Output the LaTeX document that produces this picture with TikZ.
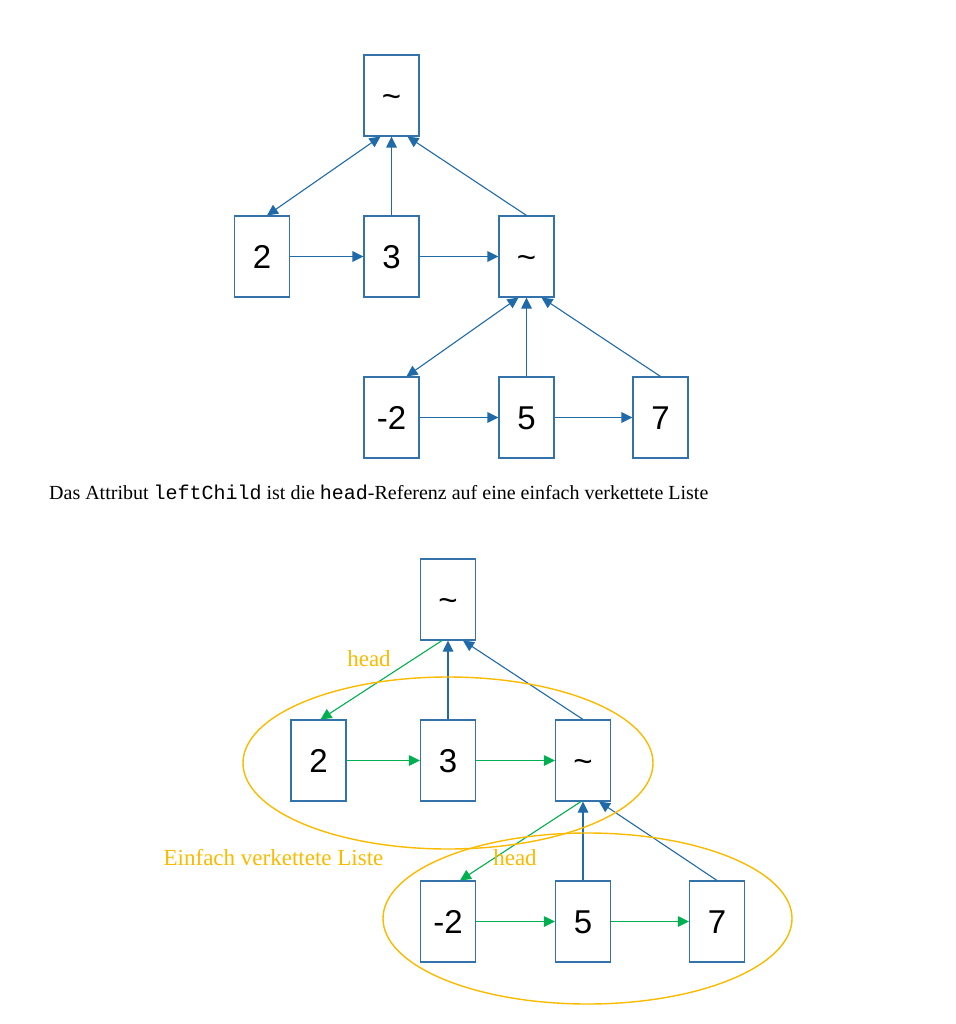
\documentclass[tikz,border=0pt]{standalone}
\usepackage{fontspec}
\setmainfont{Liberation Serif}
\setsansfont{Liberation Sans}
\setmonofont{Liberation Mono}
\usetikzlibrary{arrows.meta}
\definecolor{linkblue}{RGB}{31,106,168}
\definecolor{boxblue}{RGB}{52,114,172}
\definecolor{headgreen}{RGB}{0,176,80}
\definecolor{listgold}{RGB}{250,186,0}

\begin{document}
\begin{tikzpicture}[x=1pt,y=-1pt]
    \tikzset{
      cell/.style={draw=boxblue,line width=1.1pt,minimum width=55pt,minimum height=81pt,inner sep=0pt,
        text height=23.6pt,text depth=0pt,font=\sffamily\fontsize{33}{36}\selectfont},
      uplink/.style={-{Triangle[length=11pt,width=10.5pt]},line width=1.1pt,linkblue},
      twoway/.style={{Triangle[length=11pt,width=10.5pt]}-{Triangle[length=11pt,width=10.5pt]},line width=1.1pt,linkblue},
      headlink/.style={-{Triangle[length=11pt,width=10.5pt]},line width=1.1pt,headgreen},
      listring/.style={listgold,line width=1.4pt},
      listnote/.style={text=listgold,font=\fontsize{23}{26}\selectfont,inner sep=0pt,anchor=base}
    }
    \useasboundingbox (0,0) rectangle (955,1024);

    \begin{scope}
      \node[cell] (root) at (391.5,95.5) {\textasciitilde};
      \node[cell] (n2) at (262,256.5) {2};
      \node[cell] (n3) at (391.5,256.5) {3};
      \node[cell] (sub) at (526.5,256.5) {\textasciitilde};
      \node[cell] (m2) at (391.5,417.5) {-2};
      \node[cell] (n5) at (526.5,417.5) {5};
      \node[cell] (n7) at (660.5,417.5) {7};
      \draw[twoway] ([xshift=-11pt]root.south) -- ([xshift=5pt]n2.north);
      \draw[uplink] (n3.north) -- (root.south);
      \draw[uplink] (sub.north) -- ([xshift=16pt]root.south);
      \draw[uplink] (n2.east) -- (n3.west);
      \draw[uplink] (n3.east) -- (sub.west);
      \draw[twoway] ([xshift=-8pt]sub.south) -- ([xshift=15pt]m2.north);
      \draw[uplink] (n5.north) -- (sub.south);
      \draw[uplink] (n7.north) -- ([xshift=15pt]sub.south);
      \draw[uplink] (m2.east) -- (n5.west);
      \draw[uplink] (n5.east) -- (n7.west);
    \end{scope}

    \node[anchor=base west,inner sep=0pt,font=\fontsize{20}{24}\selectfont] (caption) at (49,499)
      {Das Attribut \texttt{leftChild} ist die \texttt{head}-Referenz auf eine einfach verkettete Liste};

    \begin{scope}[shift={(56.5,504)}]
      \node[cell] (root) at (391.5,95.5) {\textasciitilde};
      \node[cell] (n2) at (262,256.5) {2};
      \node[cell] (n3) at (391.5,256.5) {3};
      \node[cell] (sub) at (526.5,256.5) {\textasciitilde};
      \node[cell] (m2) at (391.5,417.5) {-2};
      \node[cell] (n5) at (526.5,417.5) {5};
      \node[cell] (n7) at (660.5,417.5) {7};
      \draw[headlink] ([xshift=-6pt]root.south) -- ([xshift=2pt]n2.north);
      \draw[uplink] (n3.north) -- (root.south);
      \draw[uplink] (sub.north) -- ([xshift=15pt]root.south);
      \draw[headlink] (n2.east) -- (n3.west);
      \draw[headlink] (n3.east) -- (sub.west);
      \draw[headlink] ([xshift=-2pt]sub.south) -- ([xshift=12pt]m2.north);
      \draw[uplink] (n5.north) -- (sub.south);
      \draw[uplink] (n7.north) -- ([xshift=16pt]sub.south);
      \draw[headlink] (m2.east) -- (n5.west);
      \draw[headlink] (n5.east) -- (n7.west);
      \draw[listring] (391.5,259) ellipse [x radius=205, y radius=86];
      \draw[listring] (531,414.5) ellipse [x radius=204.5, y radius=85.5];
      \node[listnote] (head1) at (312.5,162.5) {head};
      \node[listnote] (listname) at (217,361.7) {Einfach verkettete Liste};
      \node[listnote] (head2) at (458.5,361.7) {head};
    \end{scope}
\end{tikzpicture}
\end{document}
